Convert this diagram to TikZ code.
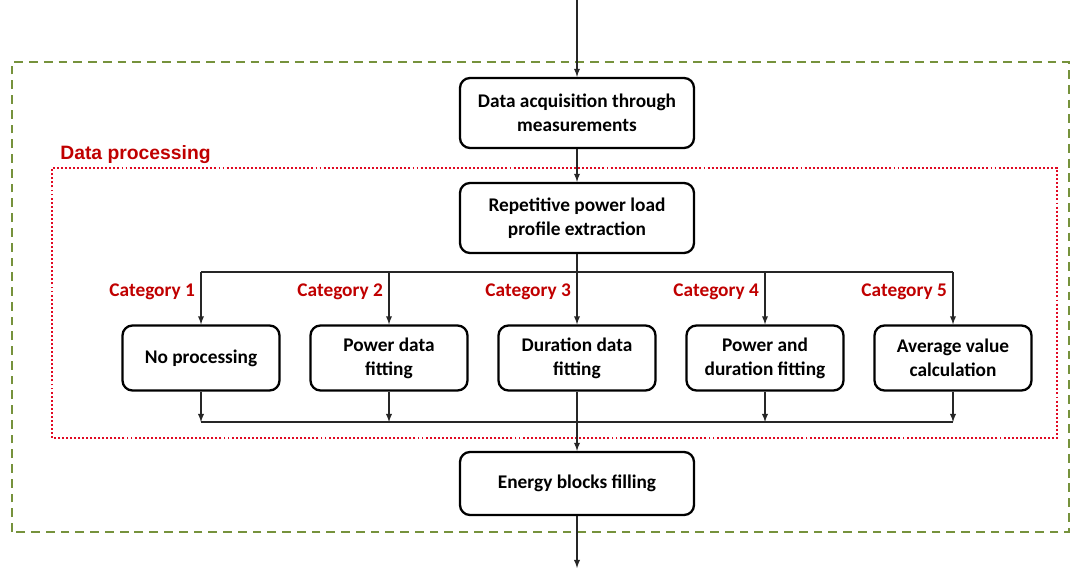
\documentclass[tikz,border=0pt]{standalone}
\usepackage{fontspec}
\setmainfont{Carlito}
\newfontfamily\arialfont{Liberation Sans}
\usepackage{tikz}
\usetikzlibrary{arrows,positioning}
\usepackage{xcolor}
\definecolor{catred}{RGB}{192,0,0}
\definecolor{dotred}{RGB}{225,10,35}
\definecolor{frameolive}{RGB}{118,146,60}
\tikzset{>=latex}

\begin{document}
\begin{tikzpicture}
                        % s = split line above the categories, m = merge line below them
                        \tikzset{>=latex}
                        \tikzstyle{block}=[draw=black, line width=1.3pt, rounded corners=0.2cm, align=center, font=\bfseries\fontsize{11}{13.6}\selectfont, minimum width=4.68cm, minimum height=1.4cm]
                        \tikzstyle{smallblock}=[block, minimum width=3.14cm, minimum height=1.3cm, node distance=3.76cm]
                        \tikzstyle{cat}=[text=catred, font=\bfseries\fontsize{11}{13}\selectfont, inner sep=1pt]
                        \tikzstyle{every edge}=[draw, black!85, line width=0.6pt, ->]
                        \useasboundingbox (0,0) rectangle (21.42,11.4);

                        \draw[frameolive, line width=0.9pt, dash pattern=on 5pt off 3.4pt] (0.24,0.76) rectangle (21.38,10.16);
                        \draw[dotred, line width=1.6pt, dash pattern=on 1.1pt off 1.2pt] (1.04,2.64) rectangle (21.14,8.04);
                        \node[text=catred, font=\arialfont\bfseries\fontsize{11}{13}\selectfont, anchor=west, inner sep=0pt] (dp) at (1.2,8.3) {Data processing};

                        \node[block] (acq) at (11.54,9.14) {Data acquisition through\\measurements};
                        \node[block] (rep) [below of = acq, node distance=2.1cm] {Repetitive power load\\profile extraction};
                        \node[smallblock] (c3) [below of = rep, node distance=2.8cm] {Duration data\\fitting};
                        \node[smallblock] (c2) [left of = c3] {Power data\\fitting};
                        \node[smallblock] (c1) [left of = c2] {No processing};
                        \node[smallblock] (c4) [right of = c3] {Power and\\duration fitting};
                        \node[smallblock] (c5) [right of = c4] {Average value\\calculation};
                        \node[block, minimum height=1.26cm] (ene) [below of = c3, node distance=2.51cm] {Energy blocks filling};

                        \coordinate (top) at (11.54,11.4);
                        \coordinate (bot) at (11.54,0.04);
                        \coordinate (s) at (11.54,5.96);
                        \coordinate (m) at (11.54,2.96);

                        \draw (top) edge (acq);
                        \draw (acq) edge (rep);
                        \draw (rep) edge (c3);
                        \draw (c3) edge (ene);
                        \draw (ene) edge (bot);

                        \draw[black!85, line width=0.6pt] (c1 |- s) -- (c5 |- s);
                        \draw[black!85, line width=0.6pt] (c1 |- m) -- (c5 |- m);
                        \foreach \c in {c1,c2,c4,c5}
                        {
                                \draw (\c |- s) edge (\c);
                                \draw (\c) edge (\c |- m);
                        }

                        \node[cat, left=0.08cm] (cat1) at (c1 |- 0,5.56) {Category 1};
                        \node[cat, left=0.08cm] (cat2) at (c2 |- 0,5.56) {Category 2};
                        \node[cat, left=0.08cm] (cat3) at (c3 |- 0,5.56) {Category 3};
                        \node[cat, left=0.08cm] (cat4) at (c4 |- 0,5.56) {Category 4};
                        \node[cat, left=0.08cm] (cat5) at (c5 |- 0,5.56) {Category 5};
                \end{tikzpicture}
\end{document}
